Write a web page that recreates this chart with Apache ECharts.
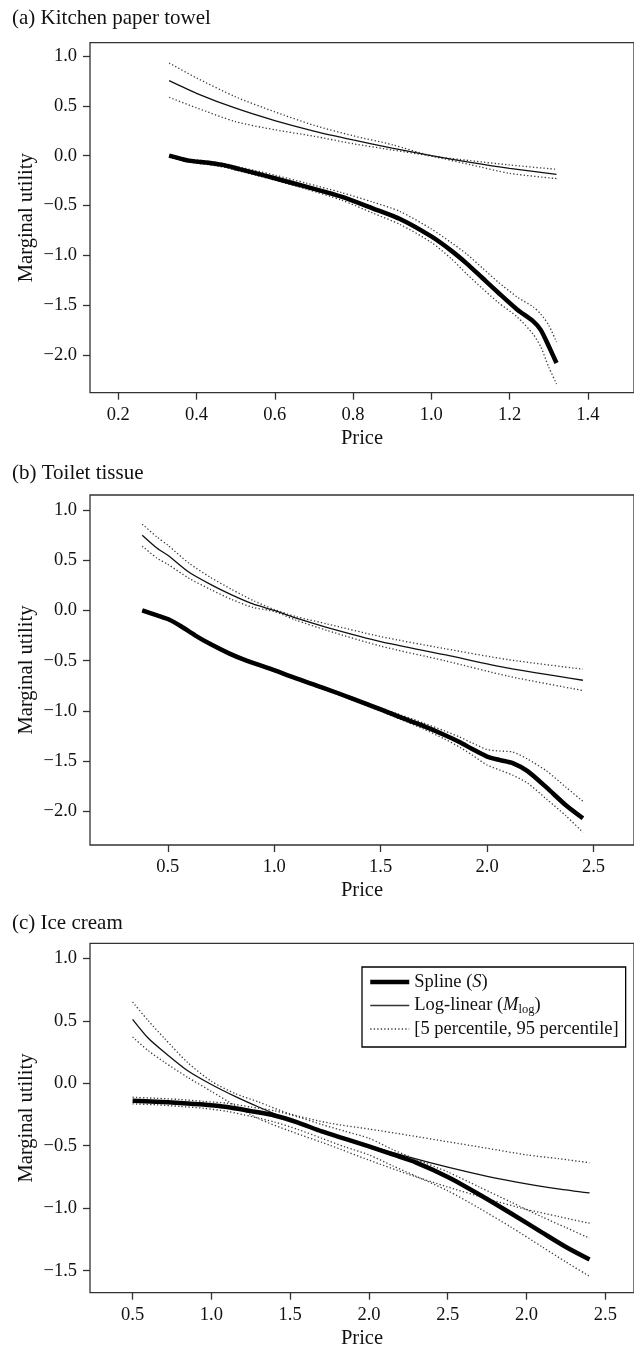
<!DOCTYPE html>
<html><head><meta charset="utf-8">
<script src="https://cdn.jsdelivr.net/npm/echarts@6/dist/echarts.min.js"></script>
<style>html,body{margin:0;padding:0;background:#fff}#c{width:634px;height:1350px}</style>
</head><body><div id="c"></div>
<script>
// ---------- texts ----------
const panelTitles = ['(a) Kitchen paper towel', '(b) Toilet tissue', '(c) Ice cream'];
const xAxisName = 'Price';
const yAxisName = 'Marginal utility';
const nameSpline = 'Spline (S)';
const nameLog = 'Log-linear (M_log)';
const nameBand = '[5 percentile, 95 percentile]';

// ---------- tick values / labels ----------
const xTickValsA = [0.2, 0.4, 0.6, 0.8, 1.0, 1.2, 1.4];
const xTickLabelsA = ['0.2', '0.4', '0.6', '0.8', '1.0', '1.2', '1.4'];
const xTickValsB = [0.5, 1.0, 1.5, 2.0, 2.5];
const xTickLabelsB = ['0.5', '1.0', '1.5', '2.0', '2.5'];
const xTickValsC = [0.5, 1.0, 1.5, 2.0, 2.5, 3.0, 3.5];
const xTickLabelsC = ['0.5', '1.0', '1.5', '2.0', '2.5', '2.0', '2.5'];
const yTickValsAB = [-2.0, -1.5, -1.0, -0.5, 0.0, 0.5, 1.0];
const yTickLabelsAB = ['\u22122.0', '\u22121.5', '\u22121.0', '\u22120.5', '0.0', '0.5', '1.0'];
const yTickValsC = [-1.5, -1.0, -0.5, 0.0, 0.5, 1.0];
const yTickLabelsC = ['\u22121.5', '\u22121.0', '\u22120.5', '0.0', '0.5', '1.0'];

// ---------- panel (a) Kitchen paper towel ----------
const splinePriceA = [0.33, 0.38, 0.43, 0.47, 0.51, 0.55, 0.60, 0.68, 0.77, 0.85, 0.92, 1.00, 1.05, 1.09, 1.13, 1.17, 1.22, 1.26, 1.28, 1.30, 1.32];
const splineA   = [0.0, -0.05, -0.07, -0.095, -0.135, -0.175, -0.227, -0.311, -0.411, -0.528, -0.635, -0.81, -0.95, -1.08, -1.225, -1.37, -1.545, -1.66, -1.75, -1.91, -2.08];
const splineHiA = [0.0, -0.035, -0.055, -0.08, -0.115, -0.15, -0.195, -0.275, -0.37, -0.465, -0.56, -0.735, -0.87, -0.985, -1.125, -1.265, -1.42, -1.516, -1.59, -1.70, -1.87];
const splineLoA = [-0.015, -0.065, -0.09, -0.115, -0.155, -0.195, -0.245, -0.335, -0.445, -0.575, -0.69, -0.87, -1.03, -1.185, -1.33, -1.47, -1.62, -1.79, -1.92, -2.12, -2.29];
const logPriceA = [0.33, 0.40, 0.50, 0.60, 0.70, 0.80, 0.90, 1.00, 1.10, 1.20, 1.32];
const logA   = [0.753, 0.626, 0.476, 0.352, 0.247, 0.158, 0.076, 0.0, -0.068, -0.128, -0.187];
const logHiA = [0.93, 0.78, 0.59, 0.44, 0.305, 0.20, 0.11, 0.0, -0.05, -0.093, -0.137];
const logLoA = [0.586, 0.48, 0.341, 0.26, 0.195, 0.12, 0.057, -0.005, -0.09, -0.177, -0.23];

// ---------- panel (b) Toilet tissue ----------
const splinePriceB = [0.38, 0.45, 0.51, 0.56, 0.63, 0.70, 0.79, 0.87, 0.98, 1.10, 1.23, 1.37, 1.50, 1.60, 1.70, 1.80, 1.87, 1.93, 2.00, 2.06, 2.12, 2.19, 2.28, 2.37, 2.45];
const splineB   = [0.0, -0.05, -0.095, -0.155, -0.25, -0.335, -0.43, -0.50, -0.58, -0.675, -0.77, -0.88, -0.985, -1.07, -1.15, -1.24, -1.31, -1.38, -1.455, -1.49, -1.52, -1.60, -1.765, -1.94, -2.07];
const splineHiB = [0.0, -0.045, -0.09, -0.145, -0.24, -0.325, -0.42, -0.49, -0.57, -0.665, -0.76, -0.865, -0.97, -1.045, -1.12, -1.20, -1.26, -1.32, -1.385, -1.40, -1.41, -1.48, -1.60, -1.76, -1.90];
const splineLoB = [-0.01, -0.06, -0.105, -0.165, -0.26, -0.345, -0.44, -0.51, -0.59, -0.685, -0.785, -0.895, -1.005, -1.09, -1.18, -1.28, -1.36, -1.44, -1.54, -1.59, -1.64, -1.72, -1.88, -2.045, -2.21];
const logPriceB = [0.38, 0.45, 0.50, 0.60, 0.70, 0.80, 0.90, 1.00, 1.10, 1.25, 1.50, 1.80, 2.10, 2.45];
const logB   = [0.75, 0.62, 0.55, 0.38, 0.26, 0.155, 0.065, 0.0, -0.075, -0.17, -0.31, -0.44, -0.575, -0.695];
const logHiB = [0.86, 0.73, 0.65, 0.47, 0.33, 0.21, 0.10, 0.01, -0.06, -0.135, -0.26, -0.38, -0.49, -0.585];
const logLoB = [0.64, 0.52, 0.46, 0.32, 0.21, 0.11, 0.03, -0.01, -0.095, -0.20, -0.355, -0.50, -0.655, -0.797];

// ---------- panel (c) Ice cream ----------
const splinePriceC = [0.5, 0.65, 0.8, 0.95, 1.1, 1.25, 1.4, 1.55, 1.7, 1.85, 2.0, 2.15, 2.3, 2.5, 2.7, 2.9, 3.1, 3.25, 3.4];
const splineC   = [-0.14, -0.147, -0.157, -0.17, -0.19, -0.223, -0.258, -0.315, -0.385, -0.445, -0.505, -0.57, -0.635, -0.75, -0.89, -1.04, -1.195, -1.31, -1.41];
const splineHiC = [-0.112, -0.12, -0.13, -0.145, -0.16, -0.19, -0.22, -0.27, -0.33, -0.385, -0.44, -0.53, -0.61, -0.71, -0.83, -0.95, -1.07, -1.155, -1.24];
const splineLoC = [-0.165, -0.172, -0.185, -0.20, -0.225, -0.265, -0.31, -0.37, -0.44, -0.51, -0.573, -0.66, -0.745, -0.86, -1.0, -1.15, -1.31, -1.43, -1.545];
const logPriceC = [0.5, 0.6, 0.7, 0.85, 1.0, 1.15, 1.3, 1.5, 1.75, 2.0, 2.25, 2.5, 2.75, 3.0, 3.2, 3.4];
const logC   = [0.512, 0.36, 0.25, 0.10, -0.01, -0.105, -0.19, -0.295, -0.41, -0.50, -0.59, -0.672, -0.745, -0.805, -0.845, -0.878];
const logHiC = [0.65, 0.50, 0.362, 0.165, 0.016, -0.082, -0.15, -0.245, -0.319, -0.366, -0.416, -0.468, -0.52, -0.573, -0.603, -0.636];
const logLoC = [0.37, 0.26, 0.17, 0.047, -0.065, -0.179, -0.284, -0.383, -0.495, -0.615, -0.728, -0.83, -0.924, -1.01, -1.066, -1.12];

// ---------- build ----------
const FONT = 'Liberation Serif';
const TXT = '#111';
const AX = '#333';
const pairs = (xs, ys) => xs.map((x, i) => [x, ys[i]]);
const labelFor = (vals, labels) => v => {
  for (let i = 0; i < vals.length; i++) if (Math.abs(vals[i] - v) < 1e-9) return labels[i];
  return '';
};

const panels = [
  { top: 42.7, height: 350, xmin: 0.1278, xmax: 1.518, ymin: -2.378, ymax: 1.1334,
    xv: xTickValsA, xl: xTickLabelsA, yv: yTickValsAB, yl: yTickLabelsAB,
    sp: [splinePriceA, splineA, splineHiA, splineLoA], lg: [logPriceA, logA, logHiA, logLoA], titleTop: 8 },
  { top: 495, height: 350, xmin: 0.1346, xmax: 2.69, ymin: -2.336, ymax: 1.150,
    xv: xTickValsB, xl: xTickLabelsB, yv: yTickValsAB, yl: yTickLabelsAB,
    sp: [splinePriceB, splineB, splineHiB, splineLoB], lg: [logPriceB, logB, logHiB, logLoB], titleTop: 462.7 },
  { top: 943.3, height: 349.4, xmin: 0.2297, xmax: 3.682, ymin: -1.676, ymax: 1.12,
    xv: xTickValsC, xl: xTickLabelsC, yv: yTickValsC, yl: yTickLabelsC,
    sp: [splinePriceC, splineC, splineHiC, splineLoC], lg: [logPriceC, logC, logHiC, logLoC], titleTop: 912.5 }
];

const grid = [], xAxis = [], yAxis = [], series = [], title = [];
const dotted = { color: '#3a3a3a', width: 1.3, type: [1.3, 2.2] };

panels.forEach((p, i) => {
  title.push({ text: panelTitles[i], left: 12, top: p.titleTop, padding: 0,
    textStyle: { fontFamily: FONT, fontSize: 21, fontWeight: 'normal', color: TXT } });
  grid.push({ left: 90, top: p.top, width: 544, height: p.height, show: true,
    borderColor: AX, borderWidth: 1.3, backgroundColor: 'transparent' });
  xAxis.push({ type: 'value', gridIndex: i, min: p.xmin, max: p.xmax, position: 'bottom',
    name: xAxisName, nameLocation: 'middle', nameGap: 35, nameMoveOverlap: false,
    nameTextStyle: { fontFamily: FONT, fontSize: 20.5, color: TXT },
    axisLine: { show: false, onZero: false }, splitLine: { show: false },
    axisTick: { show: true, length: 7, customValues: p.xv, lineStyle: { color: AX, width: 1.3 } },
    axisLabel: { customValues: p.xv, formatter: labelFor(p.xv, p.xl), margin: 13,
      fontFamily: FONT, fontSize: 18.5, color: TXT } });
  yAxis.push({ type: 'value', gridIndex: i, min: p.ymin, max: p.ymax, position: 'left',
    name: yAxisName, nameLocation: 'middle', nameGap: 53, nameRotate: 90, nameMoveOverlap: false,
    nameTextStyle: { fontFamily: FONT, fontSize: 20.5, color: TXT },
    axisLine: { show: false, onZero: false }, splitLine: { show: false },
    axisTick: { show: true, length: 7, customValues: p.yv, lineStyle: { color: AX, width: 1.3 } },
    axisLabel: { customValues: p.yv, formatter: labelFor(p.yv, p.yl), margin: 13,
      fontFamily: FONT, fontSize: 18.5, color: TXT } });
  const base = { type: 'line', xAxisIndex: i, yAxisIndex: i, symbol: 'none', showSymbol: false,
    smooth: 0.25, silent: true, animation: false };
  [p.sp[2], p.sp[3]].forEach(ys => series.push(Object.assign({}, base, {
    name: nameBand, data: pairs(p.sp[0], ys), lineStyle: dotted, itemStyle: { color: '#3a3a3a' } })));
  [p.lg[2], p.lg[3]].forEach(ys => series.push(Object.assign({}, base, {
    name: nameBand, data: pairs(p.lg[0], ys), lineStyle: dotted, itemStyle: { color: '#3a3a3a' } })));
  series.push(Object.assign({}, base, { name: nameLog, data: pairs(p.lg[0], p.lg[1]),
    lineStyle: { color: '#111', width: 1.3 }, itemStyle: { color: '#111' } }));
  series.push(Object.assign({}, base, { name: nameSpline, data: pairs(p.sp[0], p.sp[1]),
    lineStyle: { color: '#000', width: 4.5 }, itemStyle: { color: '#000' } }));
});

const legend = {
  left: 362, top: 967, orient: 'vertical', itemWidth: 39, itemHeight: 14, itemGap: 2.5,
  padding: [5, 7, 8, 6], borderColor: '#000', borderWidth: 1.3, backgroundColor: '#fff',
  selectedMode: false,
  data: [
    { name: nameSpline, itemStyle: { opacity: 0 }, lineStyle: { color: '#000', width: 4.5, type: 'solid' } },
    { name: nameLog, itemStyle: { opacity: 0 }, lineStyle: { color: '#333', width: 1.3, type: 'solid' } },
    { name: nameBand, itemStyle: { opacity: 0 }, lineStyle: { color: '#3a3a3a', width: 1.3, type: [1.3, 2.2] } }
  ],
  formatter: n => n === nameSpline ? 'Spline ({it|S})' : (n === nameLog ? 'Log-linear ({it|M}{sub|log})' : n),
  textStyle: { fontFamily: FONT, fontSize: 18.5, color: TXT, lineHeight: 20,
    rich: { it: { fontFamily: FONT, fontSize: 18.5, fontStyle: 'italic', color: TXT, lineHeight: 20 },
            sub: { fontFamily: FONT, fontSize: 12.5, color: TXT, padding: [9, 0, 0, 0], lineHeight: 20 } } }
};

const chart = echarts.init(document.getElementById('c'), null, { renderer: 'canvas' });
chart.setOption({ animation: false, backgroundColor: '#fff', title, grid, xAxis, yAxis, series, legend });
</script></body></html>
